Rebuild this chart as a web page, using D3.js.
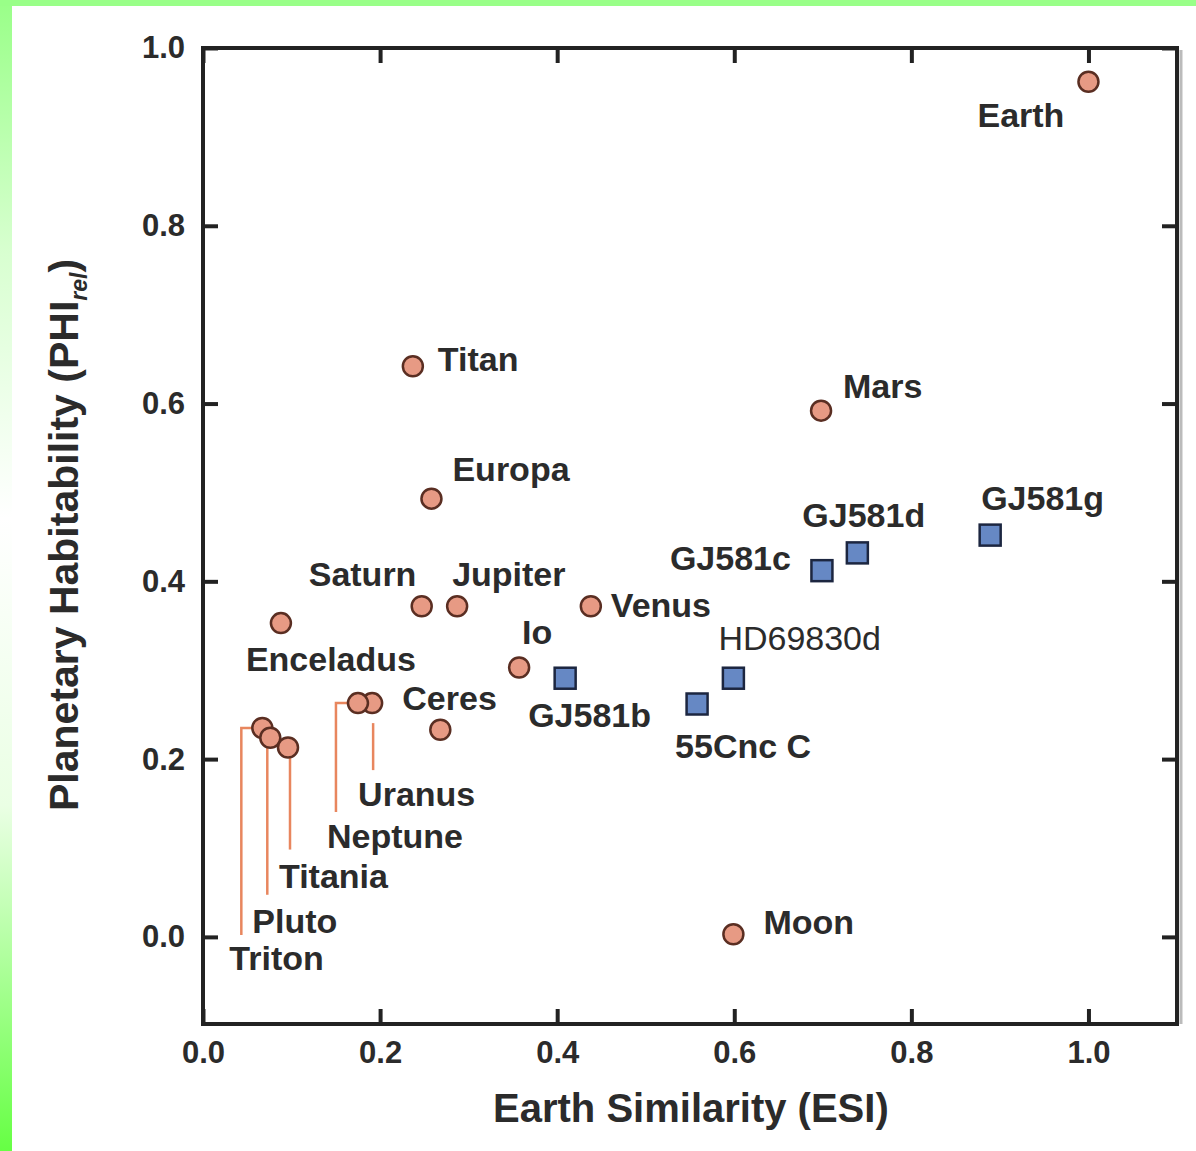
<!DOCTYPE html>
<html>
<head>
<meta charset="utf-8">
<script src="https://cdn.jsdelivr.net/npm/d3@7"></script>
<style>
    html, body { margin: 0; padding: 0; background: #fff; }
    #chart { width: 1196px; height: 1151px; }
    text { font-family: "Liberation Sans", Arial, sans-serif; fill: #2b2b2b; }
</style>
</head>
<body>
<div id="chart"></div>
<script>
///// DATOS //////
// Cuerpos del sistema solar (círculos)
let solarNames = ['Earth', 'Titan', 'Mars', 'Europa', 'Saturn', 'Jupiter', 'Venus', 'Enceladus', 'Io',
    'Uranus', 'Neptune', 'Ceres', 'Triton', 'Pluto', 'Titania', 'Moon'];
let solarESI = [1.0, 0.237, 0.698, 0.258, 0.247, 0.287, 0.438, 0.088, 0.357,
    0.191, 0.175, 0.268, 0.067, 0.076, 0.096, 0.599];
let solarPHI = [0.962, 0.642, 0.592, 0.493, 0.372, 0.372, 0.372, 0.353, 0.303,
    0.263, 0.263, 0.233, 0.235, 0.224, 0.213, 0.003];

// Exoplanetas (cuadrados)
let exoNames = ['GJ581b', '55Cnc C', 'HD69830d', 'GJ581c', 'GJ581d', 'GJ581g'];
let exoESI = [0.409, 0.558, 0.599, 0.699, 0.739, 0.889];
let exoPHI = [0.291, 0.262, 0.291, 0.412, 0.432, 0.452];

let xTicks = [0.0, 0.2, 0.4, 0.6, 0.8, 1.0];
let yTicks = [0.0, 0.2, 0.4, 0.6, 0.8, 1.0];

// Colocación de etiquetas (desplazamiento en px respecto al punto)
let labelPos = {
    'Earth': [-111, 45], 'Titan': [25, 5], 'Mars': [22, -13], 'Europa': [21, -18],
    'Saturn': [-113, -20], 'Jupiter': [-5, -20], 'Venus': [20, 11], 'Enceladus': [-35, 48],
    'Io': [3, -24], 'Ceres': [-38, -20], 'Moon': [30, 0],
    'GJ581b': [-37, 49], '55Cnc C': [-22, 54], 'HD69830d': [-15, -28],
    'GJ581c': [-152, -1], 'GJ581d': [-55, -26], 'GJ581g': [-9, -25],
    'Uranus': [-14, 103], 'Neptune': [-31, 145], 'Titania': [-9, 140], 'Pluto': [-18, 195], 'Triton': [-33, 242]
};
// Líneas guía: puntos relativos (px) desde el marcador
let leaders = {
    'Uranus': [[1, 20], [1, 67]],
    'Neptune': [[-10, 0], [-22, 0], [-22, 109]],
    'Titania': [[2, 10], [2, 102]],
    'Pluto': [[-3, 10], [-3, 157]],
    'Triton': [[-6, 0], [-21, 0], [-21, 207]]
};
let drawOrder = ['Earth', 'Titan', 'Mars', 'Europa', 'Saturn', 'Jupiter', 'Venus', 'Enceladus', 'Io',
    'Uranus', 'Neptune', 'Ceres', 'Triton', 'Pluto', 'Titania', 'Moon'];

///// VISUALIZACIÓN //////
let W = 1196, H = 1151;
let margin = {top: 48, right: 19, bottom: 127, left: 203};
let width = W - margin.left - margin.right,
    height = H - margin.top - margin.bottom;

let svg = d3.select('#chart').append('svg')
    .attr('width', W)
    .attr('height', H);

// Borde verde
let defs = svg.append('defs');
let grad = defs.append('linearGradient').attr('id', 'gleft')
    .attr('x1', 0).attr('y1', 0).attr('x2', 0).attr('y2', 1);
grad.append('stop').attr('offset', '0%').attr('stop-color', '#99ff88');
grad.append('stop').attr('offset', '22%').attr('stop-color', '#d8ffd0');
grad.append('stop').attr('offset', '45%').attr('stop-color', '#ffffff');
grad.append('stop').attr('offset', '70%').attr('stop-color', '#eaffe4');
grad.append('stop').attr('offset', '100%').attr('stop-color', '#66ff44');

svg.append('rect').attr('x', 0).attr('y', 0).attr('width', 12).attr('height', H).attr('fill', 'url(#gleft)');
svg.append('rect').attr('x', 0).attr('y', 0).attr('width', W).attr('height', 6).attr('fill', '#99ff88');

let chart = svg.append('g')
    .attr('transform', 'translate(' + margin.left + ',' + margin.top + ')');

let x = d3.scaleLinear().domain([0, 1.1]).range([0, width]);
let y = d3.scaleLinear().domain([-0.098, 1.0]).range([height, 0]);

let fmt = d3.format('.1f');

function styleAxis(g) {
    g.select('.domain').remove();
    g.selectAll('.tick line').attr('stroke', '#222').attr('stroke-width', 4);
    g.selectAll('.tick text')
        .style('font-size', '31px')
        .style('font-weight', 'bold')
        .attr('fill', '#333');
}

// Eje X
chart.append('g')
    .attr('transform', 'translate(0,' + height + ')')
    .call(d3.axisBottom(x).tickValues(xTicks).tickFormat(fmt).tickSize(-15).tickPadding(17))
    .call(styleAxis);
chart.append('g')
    .call(d3.axisTop(x).tickValues(xTicks).tickFormat('').tickSize(-15))
    .call(styleAxis);

// Eje Y
chart.append('g')
    .call(d3.axisLeft(y).tickValues(yTicks).tickFormat(fmt).tickSize(-15).tickPadding(18))
    .call(styleAxis);
chart.append('g')
    .attr('transform', 'translate(' + width + ',0)')
    .call(d3.axisRight(y).tickValues(yTicks).tickFormat('').tickSize(-15))
    .call(styleAxis);

// Marco
chart.append('line')
    .attr('x1', width + 4).attr('x2', width + 4).attr('y1', 2).attr('y2', height)
    .attr('stroke', '#bbb').attr('stroke-width', 3);
chart.append('rect')
    .attr('x', 0).attr('y', 0).attr('width', width).attr('height', height)
    .attr('fill', 'none').attr('stroke', '#222').attr('stroke-width', 4);

// Títulos de ejes
chart.append('text')
    .attr('x', x(0.551)).attr('y', height + 98)
    .attr('text-anchor', 'middle')
    .style('font-size', '40px').style('font-weight', 'bold')
    .text('Earth Similarity (ESI)');

let yTitle = svg.append('text')
    .attr('transform', 'translate(78,535) rotate(-90)')
    .attr('text-anchor', 'middle')
    .style('font-size', '41px').style('font-weight', 'bold');
yTitle.append('tspan').text('Planetary Habitability (PHI');
yTitle.append('tspan').text('rel').style('font-size', '23px').style('font-style', 'italic').attr('dy', 9);
yTitle.append('tspan').text(')').attr('dy', -9);

// Datos combinados
let solar = solarNames.map((n, i) => ({name: n, esi: solarESI[i], phi: solarPHI[i]}));
let exo = exoNames.map((n, i) => ({name: n, esi: exoESI[i], phi: exoPHI[i]}));
solar.sort((a, b) => drawOrder.indexOf(a.name) - drawOrder.indexOf(b.name));

// Líneas guía
let leaderLine = d3.line();
solar.filter(d => leaders[d.name]).forEach(function(d) {
    let px = x(d.esi), py = y(d.phi);
    chart.append('path')
        .attr('d', leaderLine(leaders[d.name].map(p => [px + p[0], py + p[1]])))
        .attr('fill', 'none')
        .attr('stroke', '#e8865e')
        .attr('stroke-width', 2.5);
});

// Círculos
chart.selectAll('.solar')
    .data(solar)
    .enter().append('circle')
    .attr('class', 'solar')
    .attr('cx', d => x(d.esi))
    .attr('cy', d => y(d.phi))
    .attr('r', 10)
    .attr('fill', '#e79a84')
    .attr('stroke', '#5a2e22')
    .attr('stroke-width', 2.5);

// Cuadrados
chart.selectAll('.exo')
    .data(exo)
    .enter().append('rect')
    .attr('class', 'exo')
    .attr('x', d => x(d.esi) - 10.5)
    .attr('y', d => y(d.phi) - 10.5)
    .attr('width', 21)
    .attr('height', 21)
    .attr('fill', '#6688c4')
    .attr('stroke', '#1c2640')
    .attr('stroke-width', 2.5);

// Etiquetas
chart.selectAll('.lbl')
    .data(solar.concat(exo))
    .enter().append('text')
    .attr('class', 'lbl')
    .attr('x', d => x(d.esi) + labelPos[d.name][0])
    .attr('y', d => y(d.phi) + labelPos[d.name][1])
    .style('font-size', '34px')
    .style('font-weight', d => d.name == 'HD69830d' ? 'normal' : 'bold')
    .text(d => d.name);
</script>
</body>
</html>
